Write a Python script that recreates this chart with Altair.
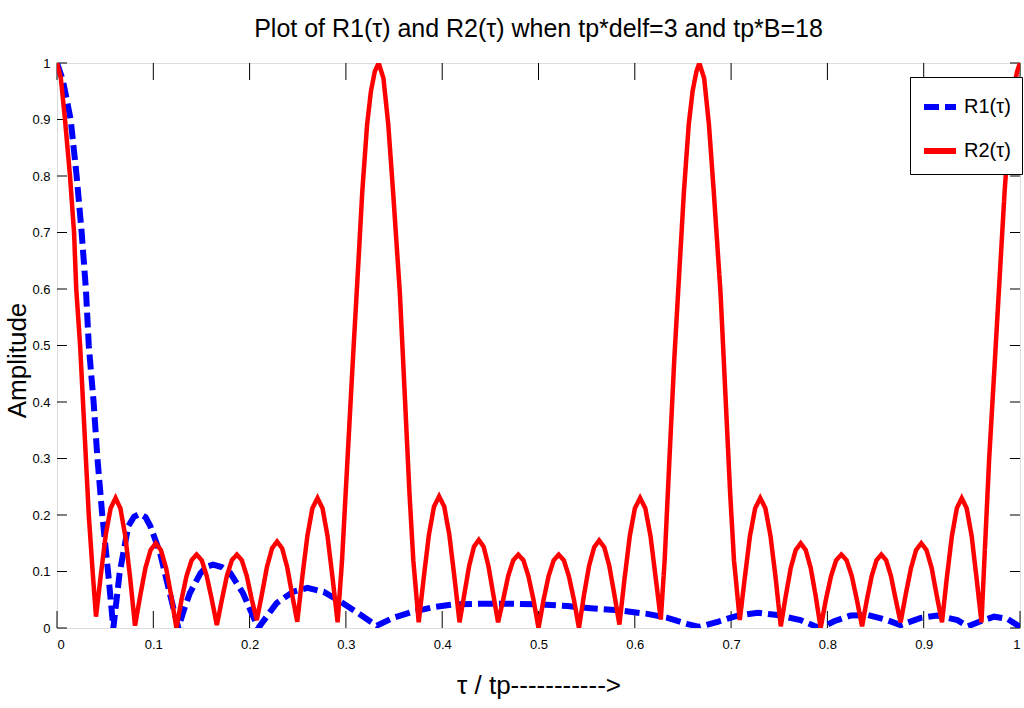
import altair as alt
import pandas as pd

# ---------------- data ----------------
r1_tau = [0.0, 0.006, 0.0142, 0.0204, 0.0256, 0.030, 0.033, 0.038, 0.042, 0.047, 0.053, 0.0585,
          0.065, 0.074, 0.080, 0.086, 0.092, 0.097, 0.107, 0.117, 0.126,
          0.132, 0.138, 0.149, 0.155, 0.162, 0.171, 0.180, 0.193, 0.200, 0.209,
          0.228, 0.245, 0.260, 0.277, 0.294, 0.312, 0.332,
          0.349, 0.370, 0.391, 0.412, 0.440, 0.470, 0.500, 0.530, 0.554, 0.585, 0.613, 0.634, 0.655, 0.667,
          0.686, 0.707, 0.728, 0.748, 0.772, 0.786, 0.793,
          0.807, 0.824, 0.842, 0.862, 0.876,
          0.897, 0.914, 0.935, 0.946,
          0.959, 0.973, 0.987, 1.0]
r1_amp = [1.0, 0.97, 0.90, 0.80, 0.70, 0.60, 0.50, 0.40, 0.30, 0.20, 0.10, 0.0,
          0.097, 0.18, 0.197, 0.202, 0.196, 0.18, 0.133, 0.062, 0.0,
          0.033, 0.062, 0.097, 0.108, 0.112, 0.108, 0.097, 0.062, 0.035, 0.0,
          0.044, 0.064, 0.071, 0.064, 0.047, 0.027, 0.004,
          0.018, 0.029, 0.037, 0.042, 0.043, 0.043, 0.042, 0.039, 0.035, 0.031, 0.025, 0.018, 0.007, 0.002,
          0.011, 0.022, 0.027, 0.023, 0.014, 0.004, 0.0,
          0.012, 0.022, 0.023, 0.014, 0.005,
          0.018, 0.022, 0.014, 0.003,
          0.012, 0.020, 0.016, 0.002]

# R2: main lobe at 0 and first group of side lobes
r2_tau_a = [0.0, 0.004, 0.0083, 0.0135, 0.0177, 0.020, 0.024, 0.027, 0.030, 0.033, 0.037, 0.0405,
            0.0456, 0.0506, 0.0557, 0.0608, 0.0658, 0.0709, 0.0760, 0.081,
            0.0864, 0.0918, 0.0972, 0.1025, 0.1079, 0.1133, 0.1186, 0.124,
            0.1293, 0.1345, 0.1398, 0.145, 0.1503, 0.1555, 0.1608, 0.166,
            0.1712, 0.1764, 0.1816, 0.1868, 0.1919, 0.1971, 0.2023, 0.2075,
            0.2128, 0.218, 0.2233, 0.2285, 0.2338, 0.239, 0.2443, 0.2495,
            0.2547, 0.260, 0.2652, 0.2705, 0.2757, 0.2809, 0.2862, 0.2914]
r2_amp_a = [1.0, 0.973, 0.90, 0.80, 0.70, 0.60, 0.50, 0.40, 0.30, 0.20, 0.10, 0.02,
            0.095, 0.165, 0.212, 0.23, 0.212, 0.163, 0.088, 0.004,
            0.057, 0.106, 0.138, 0.15, 0.138, 0.106, 0.057, 0.0,
            0.05, 0.092, 0.12, 0.13, 0.12, 0.092, 0.05, 0.005,
            0.05, 0.092, 0.12, 0.13, 0.12, 0.092, 0.05, 0.014,
            0.06, 0.108, 0.141, 0.153, 0.141, 0.108, 0.058, 0.011,
            0.09, 0.163, 0.212, 0.23, 0.212, 0.163, 0.088, 0.01]

# R2: main lobe at 1/3 and second group of side lobes
r2_tau_b = [0.296, 0.3017, 0.3073, 0.3132, 0.317, 0.322, 0.326, 0.330, 0.334,
            0.339, 0.344, 0.349, 0.356, 0.361, 0.366, 0.370, 0.3756,
            0.3809, 0.3862, 0.3915, 0.3968, 0.4021, 0.4074, 0.4127, 0.418,
            0.423, 0.428, 0.433, 0.438, 0.443, 0.448, 0.453, 0.458,
            0.4633, 0.4685, 0.4738, 0.479, 0.4843, 0.4895, 0.4948, 0.500,
            0.5053, 0.5105, 0.5158, 0.521, 0.5263, 0.5315, 0.5368, 0.542,
            0.5473, 0.5525, 0.5578, 0.563, 0.5683, 0.5735, 0.5788, 0.584,
            0.5894, 0.5948, 0.6001, 0.6055, 0.6109, 0.6163, 0.6216, 0.627]
r2_amp_b = [0.12, 0.30, 0.476, 0.654, 0.772, 0.891, 0.95, 0.985, 1.0,
            0.973, 0.891, 0.772, 0.594, 0.417, 0.239, 0.12, 0.01,
            0.09, 0.165, 0.215, 0.233, 0.215, 0.165, 0.09, 0.01,
            0.06, 0.11, 0.144, 0.156, 0.144, 0.11, 0.06, 0.01,
            0.05, 0.092, 0.12, 0.13, 0.12, 0.092, 0.05, 0.0,
            0.05, 0.092, 0.12, 0.13, 0.12, 0.092, 0.05, 0.0,
            0.059, 0.11, 0.143, 0.155, 0.143, 0.11, 0.059, 0.006,
            0.088, 0.163, 0.212, 0.23, 0.212, 0.163, 0.09, 0.015]

# R2: main lobe at 2/3, third group of side lobes, rise to 1
r2_tau_c = [0.631, 0.636, 0.641, 0.647, 0.651, 0.656, 0.660, 0.664, 0.667,
            0.672, 0.677, 0.682, 0.689, 0.694, 0.699, 0.703, 0.709,
            0.7143, 0.7196, 0.725, 0.7303, 0.7356, 0.7409, 0.7463, 0.7516,
            0.7568, 0.7619, 0.7671, 0.7723, 0.7775, 0.7827, 0.7878, 0.793,
            0.7984, 0.8038, 0.8091, 0.8145, 0.8199, 0.8253, 0.8306, 0.836,
            0.841, 0.846, 0.851, 0.856, 0.861, 0.866, 0.871, 0.876,
            0.8814, 0.8868, 0.8921, 0.8975, 0.9029, 0.9083, 0.9136, 0.919,
            0.9241, 0.9293, 0.9344, 0.9395, 0.9446, 0.9498, 0.9549, 0.960,
            0.963, 0.968, 0.974, 0.980, 0.984, 0.989, 0.993, 0.997, 1.0]
r2_amp_c = [0.12, 0.30, 0.476, 0.654, 0.772, 0.891, 0.95, 0.985, 1.0,
            0.973, 0.891, 0.772, 0.594, 0.417, 0.239, 0.12, 0.014,
            0.09, 0.163, 0.212, 0.23, 0.212, 0.163, 0.088, 0.003,
            0.057, 0.106, 0.138, 0.15, 0.138, 0.106, 0.057, 0.0,
            0.05, 0.092, 0.12, 0.13, 0.12, 0.092, 0.05, 0.003,
            0.05, 0.092, 0.12, 0.13, 0.12, 0.092, 0.05, 0.01,
            0.06, 0.106, 0.138, 0.15, 0.138, 0.106, 0.057, 0.01,
            0.09, 0.163, 0.212, 0.23, 0.212, 0.163, 0.088, 0.01,
            0.12, 0.30, 0.476, 0.654, 0.772, 0.891, 0.95, 0.985, 1.0]

series_names = ["R1(\u03c4)", "R2(\u03c4)"]
series_colors = ["#0000ff", "#ff0000"]
x_ticks = [0, 0.1, 0.2, 0.3, 0.4, 0.5, 0.6, 0.7, 0.8, 0.9, 1]
y_ticks = [0, 0.1, 0.2, 0.3, 0.4, 0.5, 0.6, 0.7, 0.8, 0.9, 1]

title_text = "Plot of R1(\u03c4) and R2(\u03c4) when tp*delf=3 and tp*B=18"
x_title = "\u03c4 / tp----------->"
y_title = "Amplitude"

# ---------------- build ----------------
W, H = 963, 565
FONT = "Liberation Sans, Arial, sans-serif"

df1 = pd.DataFrame({"tau": r1_tau, "amp": r1_amp, "series": series_names[0]})
df2 = pd.DataFrame({"tau": r2_tau_a + r2_tau_b + r2_tau_c,
                    "amp": r2_amp_a + r2_amp_b + r2_amp_c,
                    "series": series_names[1]})
dfx = pd.DataFrame({"t": x_ticks})
dfy = pd.DataFrame({"t": y_ticks})

xscale = alt.Scale(domain=[0, 1], nice=False, zero=False)
yscale = alt.Scale(domain=[0, 1], nice=False, zero=False)

x_enc = alt.X("tau:Q", scale=xscale,
              axis=alt.Axis(values=x_ticks, format="~g", title=x_title, ticks=False, domain=False,
                            grid=False, labelFont=FONT, labelFontSize=13, labelPadding=10,
                            labelColor="black", titleFont=FONT, titleFontSize=26,
                            titleFontWeight="normal", titleColor="black", titlePadding=21))
y_enc = alt.Y("amp:Q", scale=yscale,
              axis=alt.Axis(values=y_ticks, format="~g", title=y_title, ticks=False, domain=False,
                            grid=False, labelFont=FONT, labelFontSize=13, labelPadding=7,
                            labelColor="black", titleFont=FONT, titleFontSize=26,
                            titleFontWeight="normal", titleColor="black", titlePadding=1,
                            titleY=297))

legend = alt.Legend(title=None, orient="none", legendX=853, legendY=14,
                    labelFont=FONT, labelFontSize=20, labelColor="black",
                    symbolType="stroke", symbolSize=1024, symbolStrokeWidth=6,
                    strokeColor="black", fillColor="white", padding=11,
                    rowPadding=13, labelOffset=5, labelLimit=200)
color = alt.Color("series:N", scale=alt.Scale(domain=series_names, range=series_colors),
                  legend=legend)
dash = alt.StrokeDash("series:N", scale=alt.Scale(domain=series_names, range=[[15, 6], [1, 0]]),
                      legend=legend)

line1 = alt.Chart(df1).mark_line(strokeWidth=6, clip=True).encode(
    x=x_enc, y=y_enc, color=color, strokeDash=dash, order=alt.Order("tau:Q"))
line2 = alt.Chart(df2).mark_line(strokeWidth=4.5, clip=True).encode(
    x=alt.X("tau:Q", scale=xscale), y=alt.Y("amp:Q", scale=yscale),
    color=color, strokeDash=dash, order=alt.Order("tau:Q"))

tick_bot = alt.Chart(dfx).mark_rule(color="black", strokeWidth=1).encode(
    x=alt.X("t:Q", scale=xscale), y=alt.value(H), y2=alt.value(H - 17))
tick_top = alt.Chart(dfx).mark_rule(color="black", strokeWidth=1).encode(
    x=alt.X("t:Q", scale=xscale), y=alt.value(0), y2=alt.value(17))
tick_left = alt.Chart(dfy).mark_rule(color="black", strokeWidth=1).encode(
    y=alt.Y("t:Q", scale=yscale), x=alt.value(0), x2=alt.value(10))
tick_right = alt.Chart(dfy).mark_rule(color="black", strokeWidth=1).encode(
    y=alt.Y("t:Q", scale=yscale), x=alt.value(W), x2=alt.value(W - 10))

chart = alt.layer(tick_bot, tick_top, tick_left, tick_right, line1, line2).properties(
    width=W, height=H,
    title=alt.TitleParams(title_text, font=FONT, fontSize=25, fontWeight="normal",
                          color="black", anchor="middle", offset=15),
    autosize=alt.AutoSizeParams(type="none"),
    padding={"left": 57, "top": 63, "right": 4, "bottom": 80},
).configure_view(stroke="black", strokeWidth=2).configure(background="white")

chart.save("out.html", embed_options={"renderer": "svg", "actions": False})
